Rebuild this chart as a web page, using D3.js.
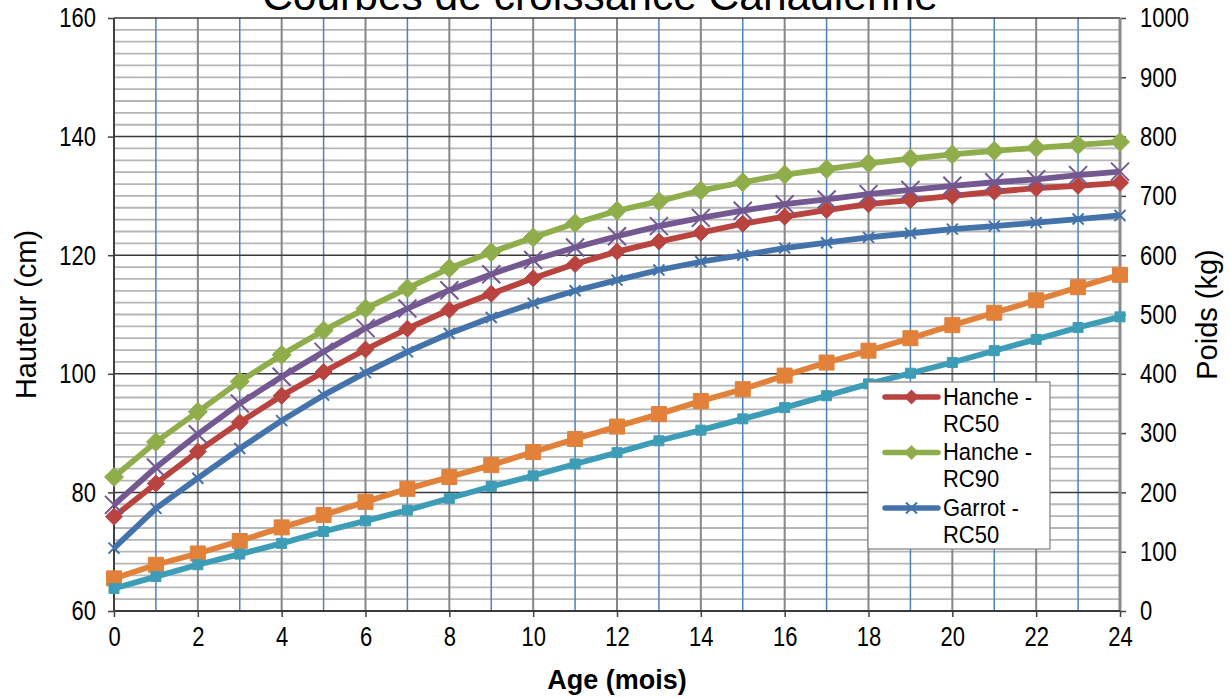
<!DOCTYPE html>
<html>
<head>
<meta charset="utf-8">
<script src="https://cdn.jsdelivr.net/npm/d3@7"></script>
<style>
  body { margin: 0; background: #fff; }
  svg { display: block; }
</style>
</head>
<body>
<svg id="chart"></svg>
<script>
// Age in months
const months = [0, 1, 2, 3, 4, 5, 6, 7, 8, 9, 10, 11, 12, 13, 14, 15, 16, 17, 18, 19, 20, 21, 22, 23, 24];

// Heights (cm), left axis
const hancheRC50 = [75.9, 81.5, 86.9, 91.8, 96.3, 100.3, 104.1, 107.6, 110.8, 113.5, 116.1, 118.5, 120.6, 122.3, 123.8, 125.3, 126.5, 127.6, 128.6, 129.3, 130.0, 130.7, 131.3, 131.7, 132.2];
const hancheRC90 = [82.6, 88.5, 93.6, 98.7, 103.2, 107.3, 111.0, 114.4, 117.8, 120.5, 123.0, 125.4, 127.5, 129.1, 130.9, 132.3, 133.6, 134.5, 135.5, 136.3, 137.0, 137.6, 138.1, 138.6, 139.1];
const garrotRC50 = [70.6, 77.3, 82.4, 87.4, 92.1, 96.4, 100.2, 103.7, 106.8, 109.5, 111.9, 114.0, 115.8, 117.5, 118.9, 120.0, 121.2, 122.1, 123.0, 123.7, 124.4, 124.9, 125.5, 126.1, 126.7];
const garrotRC90 = [77.9, 84.2, 89.8, 95.0, 99.5, 103.7, 107.7, 111.0, 114.1, 116.8, 119.2, 121.3, 123.2, 124.9, 126.3, 127.5, 128.6, 129.4, 130.3, 131.0, 131.7, 132.3, 132.8, 133.5, 134.1];

// Weights (kg), right axis
const poidsRC90 = [55, 78, 97, 118, 141, 162, 184, 206, 226, 246, 268, 290, 311, 332, 354, 374, 397, 419, 439, 460, 482, 503, 524, 546, 567];
const poidsRC50 = [38, 58, 78, 96, 114, 134, 152, 170, 190, 210, 228, 248, 267, 287, 305, 324, 343, 363, 383, 401, 419, 439, 458, 478, 496];

const xTicks = [0, 2, 4, 6, 8, 10, 12, 14, 16, 18, 20, 22, 24];
const yLeftTicks = [60, 80, 100, 120, 140, 160];
const yRightTicks = [0, 100, 200, 300, 400, 500, 600, 700, 800, 900, 1000];
const legendNames = ["Hanche - RC50", "Hanche - RC90", "Garrot - RC50"];

const width = 1230;
const height = 698;
const margin = { top: 18, right: 110, bottom: 87, left: 114 };
const innerWidth = width - margin.left - margin.right;
const innerHeight = height - margin.top - margin.bottom;
const FONT = "'Liberation Sans', Arial, sans-serif";
const INK = "#000";
const STRETCH = 1.25; // the original chart text is drawn taller than wide

const svg = d3.select("#chart")
  .attr("width", width)
  .attr("height", height)
  .attr("font-family", FONT);

const g = svg.append("g")
  .attr("transform", `translate(${margin.left},${margin.top})`);

const x = d3.scaleLinear().domain([0, 24]).range([0, innerWidth]);
const yL = d3.scaleLinear().domain([60, 160]).range([innerHeight, 0]);
const yR = d3.scaleLinear().domain([0, 1000]).range([innerHeight, 0]);

// Minor horizontal grid (every 2 cm)
g.append("g")
  .selectAll("line")
  .data(yL.ticks(50).filter(d => d % 20 !== 0))
  .join("line")
  .attr("x1", 0).attr("x2", innerWidth)
  .attr("y1", d => yL(d)).attr("y2", d => yL(d))
  .attr("stroke", "#b6b6b6")
  .attr("stroke-width", 1.8);

// Vertical grid: even months grey, odd months blue
g.append("g")
  .selectAll("line")
  .data(months.slice(1, -1))
  .join("line")
  .attr("x1", d => x(d)).attr("x2", d => x(d))
  .attr("y1", 0).attr("y2", innerHeight)
  .attr("stroke", d => d % 2 === 0 ? "#878787" : "#4f81bd")
  .attr("stroke-width", d => d % 2 === 0 ? 2 : 1.5);

// Major horizontal grid
g.append("g")
  .selectAll("line")
  .data(yLeftTicks.slice(1))
  .join("line")
  .attr("x1", 0).attr("x2", innerWidth)
  .attr("y1", d => yL(d)).attr("y2", d => yL(d))
  .attr("stroke", "#3a3a3a")
  .attr("stroke-width", 1.5);

// Axes
const styleAxis = (sel, color) => {
  sel.attr("font-family", FONT).attr("font-size", 22);
  sel.select(".domain").remove();
  sel.selectAll(".tick line").attr("stroke", color).attr("stroke-width", 1.5);
  sel.selectAll(".tick text")
    .attr("fill", INK)
    .attr("transform", `scale(1,${STRETCH})`);
};

g.append("g")
  .call(d3.axisLeft(yL).tickValues(yLeftTicks).tickSize(6).tickPadding(12))
  .call(sel => styleAxis(sel, "#404040"));

g.append("g")
  .attr("transform", `translate(${innerWidth},0)`)
  .call(d3.axisRight(yR).tickValues(yRightTicks).tickFormat(d3.format("d")).tickSize(6).tickPadding(14))
  .call(sel => styleAxis(sel, "#404040"));

g.append("g")
  .attr("transform", `translate(0,${innerHeight})`)
  .call(d3.axisBottom(x).tickValues(xTicks).tickSize(6).tickPadding(6.5))
  .call(sel => styleAxis(sel, "#404040"));

// Axis lines
g.append("line")
  .attr("x1", innerWidth).attr("x2", innerWidth)
  .attr("y1", 0).attr("y2", innerHeight)
  .attr("stroke", "#8a8a8a")
  .attr("stroke-width", 3);

g.append("line")
  .attr("x1", 0).attr("x2", innerWidth)
  .attr("y1", innerHeight).attr("y2", innerHeight)
  .attr("stroke", "#3a3a3a")
  .attr("stroke-width", 2);

g.append("line")
  .attr("x1", 0).attr("x2", 0)
  .attr("y1", 0).attr("y2", innerHeight)
  .attr("stroke", "#404040")
  .attr("stroke-width", 2);

// Marker shapes
const diamond = r => `M0,${-r}L${r},0L0,${r}L${-r},0Z`;
const square = r => `M${-r},${-r}H${r}V${r}H${-r}Z`;
const cross = r => `M${-r},${-r}L${r},${r}M${-r},${r}L${r},${-r}`;

const series = [
  { values: hancheRC50, axis: yL, color: "#b9433f", marker: "diamond", r: 8.5 },
  { values: hancheRC90, axis: yL, color: "#8fae4b", marker: "diamond", r: 9.5 },
  { values: garrotRC50, axis: yL, color: "#4473ab", marker: "cross", r: 5.5 },
  { values: garrotRC90, axis: yL, color: "#735892", marker: "cross", r: 9 },
  { values: poidsRC90, axis: yR, color: "#e2813a", marker: "square", r: 7.5 },
  { values: poidsRC50, axis: yR, color: "#3d9db6", marker: "square", r: 5 }
];

const markerPath = s => s.marker === "diamond" ? diamond(s.r)
  : s.marker === "square" ? square(s.r) : cross(s.r);

series.forEach(s => {
  const pts = months.map((m, i) => ({ m, v: s.values[i] }));
  const line = d3.line()
    .x(d => x(d.m))
    .y(d => s.axis(d.v));

  g.append("path")
    .datum(pts)
    .attr("fill", "none")
    .attr("stroke", s.color)
    .attr("stroke-width", 5.8)
    .attr("stroke-linejoin", "round")
    .attr("d", line);

  g.append("g")
    .selectAll("path")
    .data(pts)
    .join("path")
    .attr("transform", d => `translate(${x(d.m)},${s.axis(d.v)})`)
    .attr("d", markerPath(s))
    .attr("fill", s.marker === "cross" ? "none" : s.color)
    .attr("stroke", s.color)
    .attr("stroke-width", s.marker === "cross" ? 2 : 1);
});

// Title (clipped at top in the original)
svg.append("text")
  .attr("x", 600)
  .attr("y", 10)
  .attr("text-anchor", "middle")
  .attr("font-size", 42.5)
  .attr("fill", INK)
  .text("Courbes de croissance Canadienne");

// Axis titles
svg.append("text")
  .attr("transform", `translate(36,${margin.top + innerHeight / 2}) rotate(-90)`)
  .attr("text-anchor", "middle")
  .attr("font-size", 29)
  .attr("fill", INK)
  .text("Hauteur (cm)");

svg.append("text")
  .attr("transform", `translate(1217,${margin.top + innerHeight / 2}) rotate(-90)`)
  .attr("text-anchor", "middle")
  .attr("font-size", 29)
  .attr("fill", INK)
  .text("Poids (kg)");

svg.append("text")
  .attr("x", 617)
  .attr("y", 689)
  .attr("text-anchor", "middle")
  .attr("font-size", 27)
  .attr("font-weight", 700)
  .attr("fill", INK)
  .text("Age (mois)");

// Legend
const legend = svg.append("g").attr("transform", "translate(868,382)");

legend.append("rect")
  .attr("width", 182)
  .attr("height", 167)
  .attr("fill", "#fff")
  .attr("stroke", "#7f7f7f")
  .attr("stroke-width", 1.2);

legendNames.forEach((name, i) => {
  const s = series[i];
  const row = legend.append("g").attr("transform", `translate(0,${15 + i * 55.5})`);
  row.append("line")
    .attr("x1", 17).attr("x2", 70)
    .attr("stroke", s.color)
    .attr("stroke-width", 5.5)
    .attr("stroke-linecap", "round");
  row.append("path")
    .attr("transform", "translate(43.5,0)")
    .attr("d", s.marker === "diamond" ? diamond(6) : cross(5.5))
    .attr("fill", s.marker === "cross" ? "none" : s.color)
    .attr("stroke", s.color)
    .attr("stroke-width", 2);
  const parts = name.split(" - ");
  const txt = row.append("text")
    .attr("transform", "scale(1,1.08)")
    .attr("x", 75)
    .attr("y", 7.4)
    .attr("font-size", 22)
    .attr("fill", INK);
  txt.append("tspan").attr("x", 75).text(parts[0] + " -");
  txt.append("tspan").attr("x", 75).attr("dy", 25).text(parts[1]);
});
</script>
</body>
</html>
